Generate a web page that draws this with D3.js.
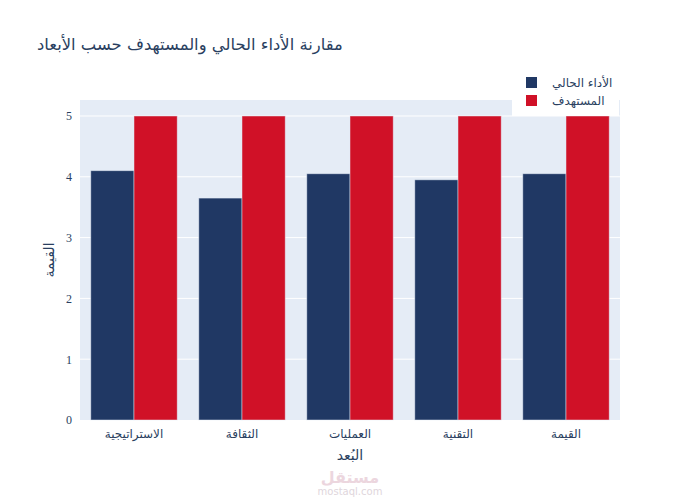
<!DOCTYPE html>
<html>
<head>
<meta charset="utf-8">
<script src="https://cdn.jsdelivr.net/npm/d3@7"></script>
<style>
  body { margin: 0; background: #fff; }
</style>
</head>
<body>
<svg id="chart"></svg>
<script>
// Data
const dimensions = ["الاستراتيجية", "الثقافة", "العمليات", "التقنية", "القيمة"];
const currentPerf = [4.1, 3.65, 4.05, 3.95, 4.05];
const targetPerf = [5, 5, 5, 5, 5];
const seriesNames = ["الأداء الحالي", "المستهدف"];
const yTicks = [0, 1, 2, 3, 4, 5];

function drawChart() {
    const margin = { top: 100, right: 80, bottom: 80, left: 80 };
    const W = 700, H = 500;
    const width = W - margin.left - margin.right;
    const height = H - margin.top - margin.bottom;
    const colors = ["#203864", "#d01127"];
    const ink = "#2a3f5f";
    const arabicFont = "'DejaVu Sans', sans-serif";

    const svg = d3.select("#chart").attr("width", W).attr("height", H);

    // Title
    svg.append("text")
        .attr("x", 37)
        .attr("y", 50)
        .attr("fill", ink)
        .style("font-family", arabicFont)
        .style("font-size", "16.4px")
        .text("مقارنة الأداء الحالي والمستهدف حسب الأبعاد");

    const g = svg.append("g")
        .attr("transform", `translate(${margin.left},${margin.top})`);

    g.append("rect")
        .attr("width", width)
        .attr("height", height)
        .attr("fill", "#e5ecf6");

    // Scales
    const x = d3.scaleBand().domain(dimensions).range([0, width]).paddingInner(0.2).paddingOuter(0.1);
    const x1 = d3.scaleBand().domain([0, 1]).range([0, x.bandwidth()]);
    const y = d3.scaleLinear().domain([0, 5.263]).range([height, 0]);

    // Grid
    g.append("g")
        .selectAll("line")
        .data(yTicks.filter(d => d > 0))
        .join("line")
        .attr("x1", 0).attr("x2", width)
        .attr("y1", d => y(d)).attr("y2", d => y(d))
        .attr("stroke", "#fff").attr("stroke-width", 1);

    // Bars
    const series = [currentPerf, targetPerf];
    series.forEach((vals, si) => {
        g.append("g")
            .selectAll("rect")
            .data(vals)
            .join("rect")
            .attr("x", (d, i) => x(dimensions[i]) + x1(si))
            .attr("y", d => y(d))
            .attr("width", x1.bandwidth())
            .attr("height", d => height - y(d))
            .attr("fill", colors[si])
            .attr("stroke", "#e5ecf6")
            .attr("stroke-opacity", 0.6)
            .attr("stroke-width", 0.8);
    });

    // Y axis
    const yAxis = g.append("g")
        .call(d3.axisLeft(y).tickValues(yTicks).tickFormat(d3.format("d")).tickSize(0).tickPadding(8));
    yAxis.select(".domain").remove();
    yAxis.selectAll("text")
        .attr("fill", ink)
        .style("font-family", "'Liberation Serif', serif")
        .style("font-size", "12px");

    // X axis
    const xAxis = g.append("g")
        .attr("transform", `translate(0,${height})`)
        .call(d3.axisBottom(x).tickSize(0).tickPadding(9));
    xAxis.select(".domain").remove();
    xAxis.selectAll("text")
        .attr("fill", ink)
        .style("font-family", arabicFont)
        .style("font-size", "12px");

    // Axis titles
    svg.append("text")
        .attr("x", margin.left + width / 2)
        .attr("y", 460)
        .attr("text-anchor", "middle")
        .attr("fill", ink)
        .style("font-family", arabicFont)
        .style("font-size", "14px")
        .text("البُعد");

    svg.append("text")
        .attr("transform", `translate(54,${margin.top + height / 2}) rotate(-90)`)
        .attr("text-anchor", "middle")
        .attr("fill", ink)
        .style("font-family", arabicFont)
        .style("font-size", "14px")
        .text("القيمة");

    // Legend
    const legend = svg.append("g").attr("transform", "translate(512,70)");
    legend.append("rect")
        .attr("width", 107).attr("height", 46)
        .attr("fill", "#fff");
    seriesNames.forEach((name, i) => {
        legend.append("rect")
            .attr("x", 14).attr("y", 7 + i * 18)
            .attr("width", 11).attr("height", 11)
            .attr("fill", colors[i]);
        legend.append("text")
            .attr("x", 40).attr("y", 17 + i * 18)
            .attr("fill", ink)
            .style("font-family", arabicFont)
            .style("font-size", "12px")
            .text(name);
    });

    // Watermark
    svg.append("text")
        .attr("x", 350).attr("y", 483)
        .attr("text-anchor", "middle")
        .attr("fill", "#ecd6de")
        .style("font-family", arabicFont)
        .style("font-size", "16px")
        .style("font-weight", "bold")
        .text("مستقل");
    svg.append("text")
        .attr("x", 350).attr("y", 495)
        .attr("text-anchor", "middle")
        .attr("fill", "#e0d6dc")
        .style("font-family", arabicFont)
        .style("font-size", "10px")
        .text("mostaql.com");
}

drawChart();
</script>
</body>
</html>
